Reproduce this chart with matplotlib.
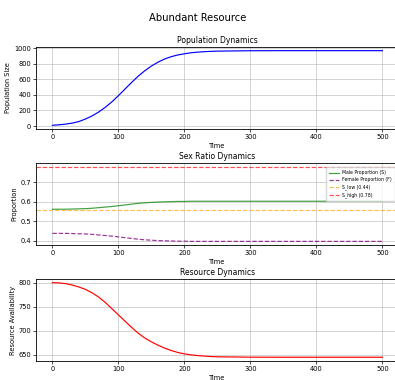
import matplotlib
matplotlib.use("Agg")
import matplotlib.pyplot as plt

time = [0, 10, 20, 30, 40, 50, 60, 70, 80, 90, 100, 110, 120, 130, 140, 150,
        160, 170, 180, 190, 200, 210, 220, 230, 240, 250, 300, 350, 400, 450, 500]
population = [10, 16, 25, 38, 58, 90, 130, 180, 240, 310, 390, 475, 560, 640, 710, 770,
              820, 860, 890, 912, 927, 940, 948, 954, 958, 961, 966, 967, 967, 967, 967]
male_prop = [0.562, 0.562, 0.562, 0.563, 0.564, 0.565, 0.567, 0.570, 0.573, 0.576, 0.580,
             0.584, 0.588, 0.592, 0.595, 0.597, 0.599, 0.600, 0.601, 0.602, 0.602, 0.603,
             0.603, 0.603, 0.603, 0.603, 0.603, 0.603, 0.603, 0.603, 0.603]
female_prop = [0.438, 0.438, 0.438, 0.437, 0.436, 0.435, 0.433, 0.430, 0.427, 0.424, 0.420,
               0.416, 0.412, 0.408, 0.405, 0.403, 0.401, 0.400, 0.399, 0.398, 0.398, 0.397,
               0.397, 0.397, 0.397, 0.397, 0.397, 0.397, 0.397, 0.397, 0.397]
resource = [800, 799.5, 798, 795, 791, 786, 779, 770, 759, 746, 733, 720, 707, 695, 685, 677,
            670, 664, 659, 655, 652, 650, 648.5, 647.5, 646.5, 646, 645.2, 645, 645, 645, 645]
s_low = 0.44
s_high = 0.78

fig = plt.figure(figsize=(3.95, 3.8), dpi=100)
left, width, height = 0.091, 0.919, 0.216
ax1 = fig.add_axes([left, 0.6605, width, height])
ax2 = fig.add_axes([left, 0.355, width, height])
ax3 = fig.add_axes([left, 0.05, width, height])

fig.suptitle("Abundant Resource", fontsize=7.2, y=0.965)

lw = 0.85
ax1.plot(time, population, color="blue", lw=lw)
ax1.set_title("Population Dynamics", fontsize=5.5, pad=3)
ax1.set_ylabel("Population Size", fontsize=4.8, labelpad=2)

ax2.plot(time, male_prop, color="green", lw=lw, alpha=0.75, label="Male Proportion (S)")
ax2.plot(time, female_prop, color="purple", lw=lw, ls="--", alpha=0.8, label="Female Proportion (F)")
ax2.axhline(1 - s_low, color="orange", lw=lw, ls="--", alpha=0.7, label=f"S_low ({s_low})")
ax2.axhline(s_high, color="red", lw=lw, ls="--", alpha=0.7, label=f"S_high ({s_high})")
ax2.set_title("Sex Ratio Dynamics", fontsize=5.5, pad=3)
ax2.set_ylabel("Proportion", fontsize=4.8, labelpad=2)
ax2.set_yticks([0.4, 0.5, 0.6, 0.7])
ax2.legend(loc="upper right", fontsize=3.3, frameon=True, borderpad=0.6, labelspacing=0.5,
           handlelength=2.2, bbox_to_anchor=(0.995, 0.975))

ax3.plot(time, resource, color="red", lw=lw)
ax3.set_title("Resource Dynamics", fontsize=5.5, pad=3)
ax3.set_ylabel("Resource Availability", fontsize=4.8, labelpad=2)

for ax in (ax1, ax2, ax3):
    ax.set_xlim(-25, 525)
    ax.set_xlabel("Time", fontsize=4.8, labelpad=2)
    ax.tick_params(labelsize=4.8, length=2, width=0.5, pad=1.5)
    ax.grid(True, alpha=0.55, lw=0.7)
    for s in ax.spines.values():
        s.set_linewidth(0.6)

fig.savefig("out.png", dpi=100)
